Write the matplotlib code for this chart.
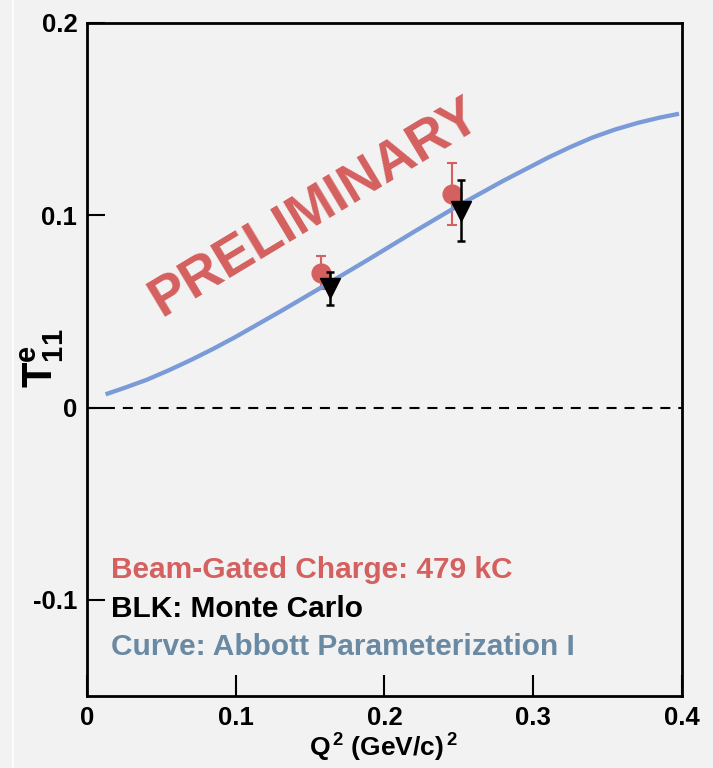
import matplotlib
matplotlib.use("Agg")
import matplotlib.pyplot as plt
from matplotlib.lines import Line2D

# ---- data ----
q2_data = [0.1571, 0.2452]
t11_data = [0.0701, 0.1110]
t11_data_err = [0.0086, 0.0160]

q2_mc = [0.1634, 0.2512]
t11_mc = [0.0620, 0.1023]
t11_mc_err = [0.0084, 0.0158]

q2_curve = [0.0125, 0.025, 0.04, 0.055, 0.07, 0.085, 0.10, 0.13, 0.16,
            0.19, 0.22, 0.25, 0.28, 0.31, 0.325, 0.34, 0.355, 0.37,
            0.385, 0.398]
t11_curve = [0.0069, 0.0102, 0.0144, 0.0194, 0.0248, 0.0306, 0.0368,
             0.0500, 0.0636, 0.0774, 0.0915, 0.1052, 0.1180, 0.1300,
             0.1355, 0.1405, 0.1446, 0.1480, 0.1508, 0.1528]

x_ticks = [0, 0.1, 0.2, 0.3, 0.4]
x_tick_labels = ["0", "0.1", "0.2", "0.3", "0.4"]
y_ticks = [-0.1, 0, 0.1, 0.2]
y_tick_labels = ["-0.1", "0", "0.1", "0.2"]

legend_lines = ["Beam-Gated Charge: 479 kC", "BLK: Monte Carlo",
                "Curve: Abbott Parameterization I"]

# ---- styling ----
RED = "#d4605f"
BLUE = "#7a9bd8"
SLATE = "#6a89a3"
BG = "#f2f2f2"
FONT = "Liberation Sans"

plt.rcParams["mathtext.fontset"] = "custom"
plt.rcParams["mathtext.rm"] = f"{FONT}:bold"
plt.rcParams["mathtext.bf"] = f"{FONT}:bold"
plt.rcParams["mathtext.it"] = f"{FONT}:bold"

W, H = 713, 768
fig = plt.figure(figsize=(W / 100, H / 100), dpi=100, facecolor=BG)
ax = fig.add_axes([87 / W, 1 - 696 / H, 595 / W, 673 / H], facecolor=BG)

ax.set_xlim(0, 0.4)
ax.set_ylim(-0.15, 0.2)

# zero reference line
ax.axhline(0, color="black", lw=1.5, linestyle=(0, (4.8, 3.8)), zorder=1)

# measured points
ax.errorbar(q2_data, t11_data, yerr=t11_data_err, fmt="o", color=RED,
            ms=13.5, elinewidth=1.5, capsize=3.3, capthick=1.5, zorder=2)

# parameterization curve
ax.plot(q2_curve, t11_curve, color=BLUE, lw=3.1, solid_capstyle="butt",
        solid_joinstyle="round", zorder=3)

# Monte Carlo points
ax.errorbar(q2_mc, t11_mc, yerr=t11_mc_err, fmt="v", color="black",
            ms=14.5, elinewidth=1.8, capsize=3.0, capthick=1.8, zorder=4)

# watermark
ax.text(0.1580, 0.0975, "PRELIMINARY", color=RED, fontsize=39.5,
        fontweight="bold", family=FONT, rotation=31, rotation_mode="anchor",
        ha="center", va="baseline", zorder=1.5)

# annotation block
for txt, col, yb in zip(legend_lines, [RED, "black", SLATE],
                        [-0.0888, -0.1089, -0.1288]):
    ax.text(0.0161, yb, txt, color=col, fontsize=21.5, fontweight="bold",
            family=FONT, ha="left", va="baseline")

# axes frame and ticks
for sp in ax.spines.values():
    sp.set_linewidth(2)
ax.set_xticks(x_ticks)
ax.set_xticklabels(x_tick_labels)
ax.set_yticks(y_ticks)
ax.set_yticklabels(y_tick_labels)
ax.tick_params(axis="x", direction="in", length=15, width=1.5, pad=7,
               labelsize=18.5)
ax.tick_params(axis="y", direction="in", length=13, width=1.5, pad=7,
               labelsize=18.5)
for lab in ax.get_xticklabels() + ax.get_yticklabels():
    lab.set_family(FONT)
    lab.set_fontweight("bold")

# axis titles
fig.text(383 / W, 1 - 757 / H, r"Q$^{\,2}$ (GeV/c)$^{\,2}$", family=FONT,
         fontweight="bold", fontsize=19, ha="center", va="baseline")
fig.text(42 / W, 1 - 358 / H, r"$\mathbf{T}^{\mathbf{e}}_{\mathbf{11}}$",
         fontsize=30, rotation=90, ha="center", va="center")

# thin light rule near the left edge
fig.add_artist(Line2D([13 / W, 13 / W], [0, 1], transform=fig.transFigure,
                      color="white", lw=1.2))

fig.savefig("out.png", dpi=100, facecolor=BG)
